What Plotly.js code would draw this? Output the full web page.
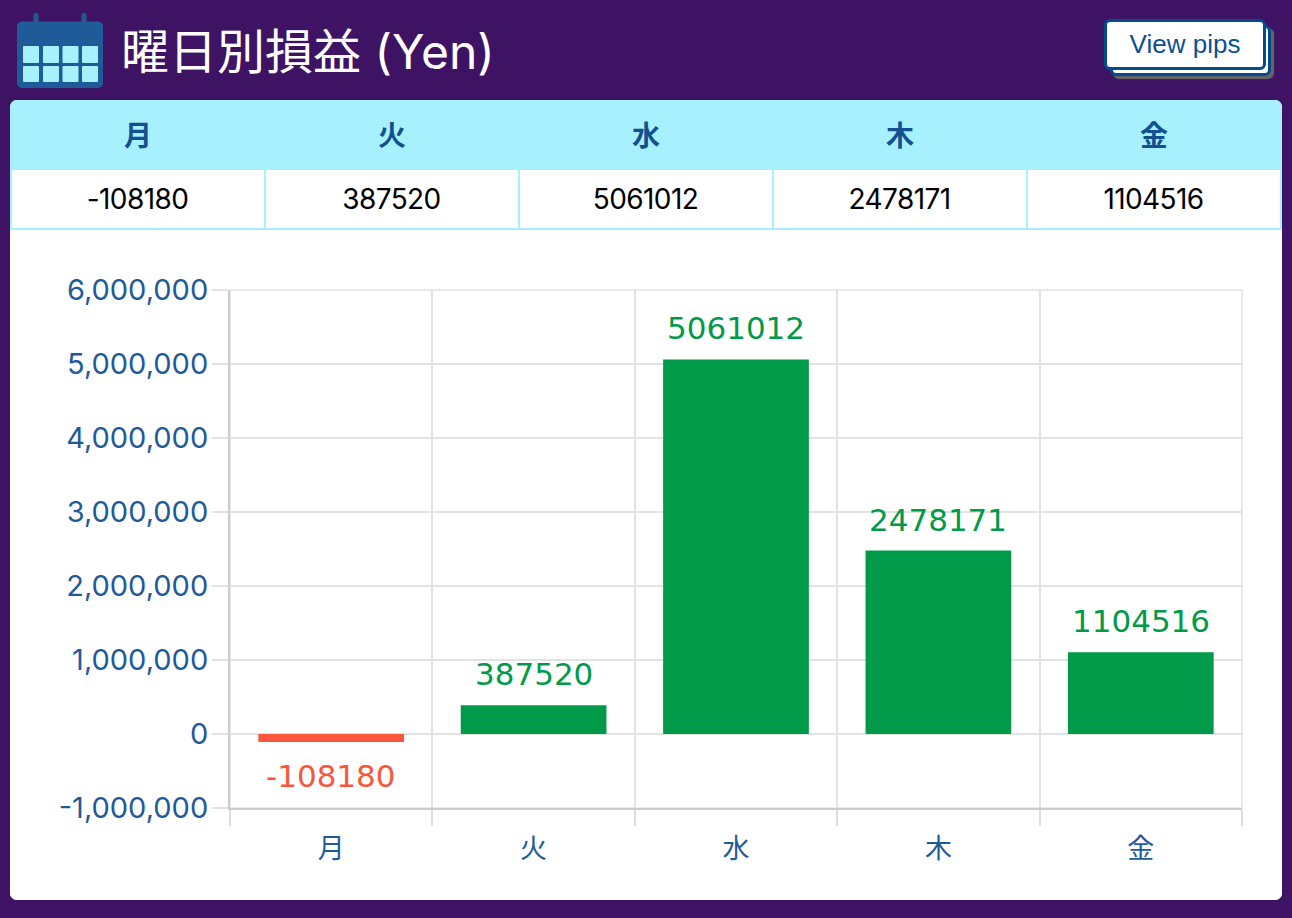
<!DOCTYPE html>
<html lang="ja">
<head>
<meta charset="utf-8">
<script src="https://cdn.plot.ly/plotly-3.0.1.min.js"></script>
<style>
html,body{margin:0;padding:0;width:1292px;height:918px;background:#3f1364;overflow:hidden}
body{position:relative;font-family:Inter,"Noto Sans CJK JP",sans-serif}
#icon{position:absolute;left:0;top:0}
#title{position:absolute;left:121px;top:22px;color:#fff;font:400 48px/60px Inter,"Noto Sans CJK JP",sans-serif;white-space:nowrap}
.btn{position:absolute;box-sizing:border-box;height:51px;border:3.5px solid #024c8c;border-radius:6px;background:#fff}
#b2{left:1110px;top:25px;width:161px;box-shadow:3px 3px 1px #666}
#b1{left:1104px;top:19px;width:162px;color:#0b4f93;font:400 26px/44px "Liberation Sans",Arial,sans-serif;text-align:center}
#card{position:absolute;left:10px;top:100px;width:1272px;height:800px;background:#fff;border-radius:7px;overflow:hidden}
#tbl{position:absolute;left:0;top:0;width:1272px;height:130px;display:grid;grid-template-columns:repeat(5,254px);grid-template-rows:70px 60px;padding:0 0 0 2px;box-sizing:border-box;background:#a6f1fd}
.h{color:#14508f;font:700 28px/68px "Noto Sans CJK JP",sans-serif;text-align:center;padding-right:2px}
.v{background:#fff;color:#000;font:400 28px/58px Inter,sans-serif;letter-spacing:-0.6px;text-align:center;box-sizing:border-box;border-right:2px solid #a6f1fd;border-bottom:2px solid #a6f1fd;padding-right:1px}
#chart{position:absolute;left:0;top:130px;width:1272px;height:670px}
</style>
</head>
<body>
<svg id="icon" width="120" height="96" viewBox="0 0 120 96">
  <rect x="33.5" y="13" width="5" height="12" rx="2.5" fill="#1f5a99"/>
  <rect x="81.5" y="13" width="5" height="12" rx="2.5" fill="#1f5a99"/>
  <rect x="17" y="21.5" width="86" height="66.5" rx="5" fill="#1f5a99"/>
  <g fill="#a6f1fd">
    <rect x="23" y="46" width="16" height="17" rx="1"/><rect x="43" y="46" width="16" height="17" rx="1"/>
    <rect x="62.5" y="46" width="16" height="17" rx="1"/><rect x="82" y="46" width="16" height="17" rx="1"/>
    <rect x="23" y="66" width="16" height="16" rx="1"/><rect x="43" y="66" width="16" height="16" rx="1"/>
    <rect x="62.5" y="66" width="16" height="16" rx="1"/><rect x="82" y="66" width="16" height="16" rx="1"/>
  </g>
</svg>
<div id="title">曜日別損益 (Yen)</div>
<div class="btn" id="b2"></div>
<div class="btn" id="b1">View pips</div>
<div id="card">
  <div id="tbl"></div>
  <div id="chart"></div>
</div>
<script>
var days = ["月", "火", "水", "木", "金"];
var profit = [-108180, 387520, 5061012, 2478171, 1104516];
var yTicks = [-1000000, 0, 1000000, 2000000, 3000000, 4000000, 5000000, 6000000];
var yTickLabels = ["-1,000,000", "0", "1,000,000", "2,000,000", "3,000,000", "4,000,000", "5,000,000", "6,000,000"];

var GREEN = "#009a49", RED = "#f9573b", AXIS = "#1f5a99", GRID = "#e3e3e3";

var tbl = document.getElementById("tbl");
days.forEach(function (d) { var e = document.createElement("div"); e.className = "h"; e.textContent = d; tbl.appendChild(e); });
profit.forEach(function (p) { var e = document.createElement("div"); e.className = "v"; e.textContent = String(p); tbl.appendChild(e); });

var colors = profit.map(function (v) { return v < 0 ? RED : GREEN; });

var trace = {
  type: "bar", x: days, y: profit, width: 0.72,
  marker: { color: colors, line: { width: 0 } },
  hoverinfo: "x+y"
};

var annotations = profit.map(function (v, i) {
  return {
    x: days[i], y: v, xref: "x", yref: "y", text: String(v), showarrow: false,
    yanchor: v < 0 ? "top" : "bottom", yshift: v < 0 ? -14 : 11,
    font: { family: "'DejaVu Sans', sans-serif", size: 31, color: colors[i] }
  };
});

var layout = {
  width: 1272, height: 670,
  margin: { l: 220, r: 40, t: 60, b: 92, pad: 0 },
  paper_bgcolor: "#fff", plot_bgcolor: "#fff",
  showlegend: false, annotations: annotations,
  font: { family: "Inter, 'Noto Sans CJK JP', sans-serif", color: AXIS },
  shapes: [{ type: "rect", xref: "paper", yref: "paper", x0: 0, x1: 1, y0: 0, y1: 1, layer: "below", line: { color: GRID, width: 1.5 } }],
  xaxis: {
    type: "category", categoryorder: "array", categoryarray: days, range: [-0.5, 4.5],
    tickson: "boundaries", ticks: "outside", ticklen: 16, tickwidth: 1.5, tickcolor: "#dedede",
    ticklabelstandoff: 16,
    showgrid: true, gridcolor: GRID, gridwidth: 1.5,
    showline: true, linecolor: "#cccccc", linewidth: 2, zeroline: false,
    tickfont: { family: "'Noto Sans CJK JP', sans-serif", size: 27, color: AXIS }, fixedrange: true
  },
  yaxis: {
    range: [-1000000, 6000000], tickmode: "array", tickvals: yTicks, ticktext: yTickLabels,
    ticks: "outside", ticklen: 16, tickwidth: 1.5, tickcolor: GRID, ticklabelstandoff: -2,
    showgrid: true, gridcolor: GRID, gridwidth: 1.5,
    showline: true, linecolor: "#cccccc", linewidth: 2, zeroline: false,
    tickfont: { family: "Inter, sans-serif", size: 29, color: AXIS }, fixedrange: true
  }
};

Plotly.newPlot("chart", [trace], layout, { displayModeBar: false });
</script>
</body>
</html>
